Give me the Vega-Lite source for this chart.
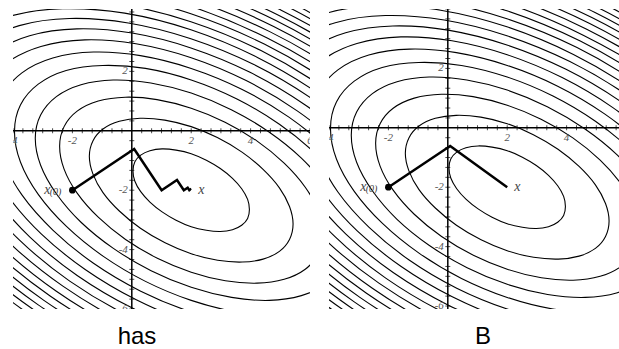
{
"$schema": "https://vega.github.io/schema/vega-lite/v6.json",
"padding": {"left": 12, "top": 8, "right": 0, "bottom": 0},
"spacing": 17,
"background": "white",
"config": {"view": {"stroke": null}},
"datasets": {
"contours": [
{"c":0,"i":0,"x":2.51,"y":-0.99},{"c":0,"i":1,"x":2.98,"y":-1.27},{"c":0,"i":2,"x":3.39,"y":-1.60},{"c":0,"i":3,"x":3.70,"y":-1.95},{"c":0,"i":4,"x":3.90,"y":-2.31},{"c":0,"i":5,"x":3.96,"y":-2.65},{"c":0,"i":6,"x":3.90,"y":-2.95},{"c":0,"i":7,"x":3.70,"y":-3.18},{"c":0,"i":8,"x":3.39,"y":-3.33},{"c":0,"i":9,"x":2.98,"y":-3.39},{"c":0,"i":10,"x":2.51,"y":-3.35},{"c":0,"i":11,"x":2.00,"y":-3.23},{"c":0,"i":12,"x":1.49,"y":-3.01},{"c":0,"i":13,"x":1.02,"y":-2.73},{"c":0,"i":14,"x":0.61,"y":-2.40},{"c":0,"i":15,"x":0.30,"y":-2.05},{"c":0,"i":16,"x":0.10,"y":-1.69},{"c":0,"i":17,"x":0.04,"y":-1.35},{"c":0,"i":18,"x":0.10,"y":-1.05},{"c":0,"i":19,"x":0.30,"y":-0.82},{"c":0,"i":20,"x":0.61,"y":-0.67},{"c":0,"i":21,"x":1.02,"y":-0.61},{"c":0,"i":22,"x":1.49,"y":-0.65},{"c":0,"i":23,"x":2.00,"y":-0.77},
{"c":1,"i":0,"x":2.88,"y":-0.23},{"c":1,"i":1,"x":3.71,"y":-0.72},{"c":1,"i":2,"x":4.42,"y":-1.30},{"c":1,"i":3,"x":4.97,"y":-1.92},{"c":1,"i":4,"x":5.31,"y":-2.55},{"c":1,"i":5,"x":5.43,"y":-3.14},{"c":1,"i":6,"x":5.31,"y":-3.66},{"c":1,"i":7,"x":4.97,"y":-4.06},{"c":1,"i":8,"x":4.42,"y":-4.32},{"c":1,"i":9,"x":3.72,"y":-4.42},{"c":1,"i":10,"x":2.89,"y":-4.36},{"c":1,"i":11,"x":2.00,"y":-4.14},{"c":1,"i":12,"x":1.12,"y":-3.77},{"c":1,"i":13,"x":0.29,"y":-3.28},{"c":1,"i":14,"x":-0.42,"y":-2.70},{"c":1,"i":15,"x":-0.97,"y":-2.08},{"c":1,"i":16,"x":-1.31,"y":-1.45},{"c":1,"i":17,"x":-1.43,"y":-0.86},{"c":1,"i":18,"x":-1.31,"y":-0.34},{"c":1,"i":19,"x":-0.97,"y":0.06},{"c":1,"i":20,"x":-0.42,"y":0.32},{"c":1,"i":21,"x":0.28,"y":0.42},{"c":1,"i":22,"x":1.11,"y":0.36},{"c":1,"i":23,"x":2.00,"y":0.14},
{"c":2,"i":0,"x":3.14,"y":0.29},{"c":2,"i":1,"x":4.21,"y":-0.34},{"c":2,"i":2,"x":5.13,"y":-1.09},{"c":2,"i":3,"x":5.84,"y":-1.90},{"c":2,"i":4,"x":6.28,"y":-2.71},{"c":2,"i":5,"x":6.43,"y":-3.48},{"c":2,"i":6,"x":6.28,"y":-4.14},{"c":2,"i":7,"x":5.84,"y":-4.66},{"c":2,"i":8,"x":5.13,"y":-5.00},{"c":2,"i":9,"x":4.22,"y":-5.13},{"c":2,"i":10,"x":3.15,"y":-5.05},{"c":2,"i":11,"x":2.00,"y":-4.76},{"c":2,"i":12,"x":0.86,"y":-4.29},{"c":2,"i":13,"x":-0.21,"y":-3.66},{"c":2,"i":14,"x":-1.13,"y":-2.91},{"c":2,"i":15,"x":-1.84,"y":-2.10},{"c":2,"i":16,"x":-2.28,"y":-1.29},{"c":2,"i":17,"x":-2.43,"y":-0.52},{"c":2,"i":18,"x":-2.28,"y":0.14},{"c":2,"i":19,"x":-1.84,"y":0.66},{"c":2,"i":20,"x":-1.13,"y":1.00},{"c":2,"i":21,"x":-0.22,"y":1.13},{"c":2,"i":22,"x":0.85,"y":1.05},{"c":2,"i":23,"x":2.00,"y":0.76},
{"c":3,"i":0,"x":3.35,"y":0.71},{"c":3,"i":1,"x":4.62,"y":-0.04},{"c":3,"i":2,"x":5.71,"y":-0.92},{"c":3,"i":3,"x":6.54,"y":-1.88},{"c":3,"i":4,"x":7.07,"y":-2.84},{"c":3,"i":5,"x":7.25,"y":-3.75},{"c":3,"i":6,"x":7.07,"y":-4.53},{"c":3,"i":7,"x":6.54,"y":-5.15},{"c":3,"i":8,"x":5.71,"y":-5.55},{"c":3,"i":9,"x":4.63,"y":-5.71},{"c":3,"i":10,"x":3.36,"y":-5.61},{"c":3,"i":11,"x":2.00,"y":-5.27},{"c":3,"i":12,"x":0.65,"y":-4.71},{"c":3,"i":13,"x":-0.62,"y":-3.96},{"c":3,"i":14,"x":-1.71,"y":-3.08},{"c":3,"i":15,"x":-2.54,"y":-2.12},{"c":3,"i":16,"x":-3.07,"y":-1.16},{"c":3,"i":17,"x":-3.25,"y":-0.25},{"c":3,"i":18,"x":-3.07,"y":0.53},{"c":3,"i":19,"x":-2.54,"y":1.15},{"c":3,"i":20,"x":-1.71,"y":1.55},{"c":3,"i":21,"x":-0.63,"y":1.71},{"c":3,"i":22,"x":0.64,"y":1.61},{"c":3,"i":23,"x":2.00,"y":1.27},
{"c":4,"i":0,"x":3.54,"y":1.07},{"c":4,"i":1,"x":4.97,"y":0.22},{"c":4,"i":2,"x":6.20,"y":-0.78},{"c":4,"i":3,"x":7.15,"y":-1.86},{"c":4,"i":4,"x":7.75,"y":-2.95},{"c":4,"i":5,"x":7.95,"y":-3.98},{"c":4,"i":6,"x":7.75,"y":-4.87},{"c":4,"i":7,"x":7.15,"y":-5.57},{"c":4,"i":8,"x":6.21,"y":-6.03},{"c":4,"i":9,"x":4.98,"y":-6.20},{"c":4,"i":10,"x":3.54,"y":-6.10},{"c":4,"i":11,"x":2.00,"y":-5.71},{"c":4,"i":12,"x":0.46,"y":-5.07},{"c":4,"i":13,"x":-0.97,"y":-4.22},{"c":4,"i":14,"x":-2.20,"y":-3.22},{"c":4,"i":15,"x":-3.15,"y":-2.14},{"c":4,"i":16,"x":-3.75,"y":-1.05},{"c":4,"i":17,"x":-3.95,"y":-0.02},{"c":4,"i":18,"x":-3.75,"y":0.87},{"c":4,"i":19,"x":-3.15,"y":1.57},{"c":4,"i":20,"x":-2.21,"y":2.03},{"c":4,"i":21,"x":-0.98,"y":2.20},{"c":4,"i":22,"x":0.46,"y":2.10},{"c":4,"i":23,"x":2.00,"y":1.71},
{"c":5,"i":0,"x":3.70,"y":1.40},{"c":5,"i":1,"x":5.29,"y":0.46},{"c":5,"i":2,"x":6.65,"y":-0.65},{"c":5,"i":3,"x":7.70,"y":-1.84},{"c":5,"i":4,"x":8.35,"y":-3.05},{"c":5,"i":5,"x":8.58,"y":-4.19},{"c":5,"i":6,"x":8.36,"y":-5.18},{"c":5,"i":7,"x":7.70,"y":-5.95},{"c":5,"i":8,"x":6.66,"y":-6.45},{"c":5,"i":9,"x":5.29,"y":-6.65},{"c":5,"i":10,"x":3.71,"y":-6.53},{"c":5,"i":11,"x":2.00,"y":-6.10},{"c":5,"i":12,"x":0.30,"y":-5.40},{"c":5,"i":13,"x":-1.29,"y":-4.46},{"c":5,"i":14,"x":-2.65,"y":-3.35},{"c":5,"i":15,"x":-3.70,"y":-2.16},{"c":5,"i":16,"x":-4.35,"y":-0.95},{"c":5,"i":17,"x":-4.58,"y":0.19},{"c":5,"i":18,"x":-4.36,"y":1.18},{"c":5,"i":19,"x":-3.70,"y":1.95},{"c":5,"i":20,"x":-2.66,"y":2.45},{"c":5,"i":21,"x":-1.29,"y":2.65},{"c":5,"i":22,"x":0.29,"y":2.53},{"c":5,"i":23,"x":2.00,"y":2.10},
{"c":6,"i":0,"x":3.85,"y":1.69},{"c":6,"i":1,"x":5.57,"y":0.67},{"c":6,"i":2,"x":7.05,"y":-0.53},{"c":6,"i":3,"x":8.19,"y":-1.83},{"c":6,"i":4,"x":8.91,"y":-3.15},{"c":6,"i":5,"x":9.15,"y":-4.38},{"c":6,"i":6,"x":8.91,"y":-5.46},{"c":6,"i":7,"x":8.20,"y":-6.29},{"c":6,"i":8,"x":7.06,"y":-6.84},{"c":6,"i":9,"x":5.58,"y":-7.06},{"c":6,"i":10,"x":3.86,"y":-6.93},{"c":6,"i":11,"x":2.00,"y":-6.46},{"c":6,"i":12,"x":0.15,"y":-5.69},{"c":6,"i":13,"x":-1.57,"y":-4.67},{"c":6,"i":14,"x":-3.05,"y":-3.47},{"c":6,"i":15,"x":-4.19,"y":-2.17},{"c":6,"i":16,"x":-4.91,"y":-0.85},{"c":6,"i":17,"x":-5.15,"y":0.38},{"c":6,"i":18,"x":-4.91,"y":1.46},{"c":6,"i":19,"x":-4.20,"y":2.29},{"c":6,"i":20,"x":-3.06,"y":2.84},{"c":6,"i":21,"x":-1.58,"y":3.06},{"c":6,"i":22,"x":0.14,"y":2.93},{"c":6,"i":23,"x":2.00,"y":2.46},
{"c":7,"i":0,"x":3.98,"y":1.97},{"c":7,"i":1,"x":5.84,"y":0.87},{"c":7,"i":2,"x":7.43,"y":-0.42},{"c":7,"i":3,"x":8.65,"y":-1.82},{"c":7,"i":4,"x":9.42,"y":-3.23},{"c":7,"i":5,"x":9.68,"y":-4.56},{"c":7,"i":6,"x":9.42,"y":-5.71},{"c":7,"i":7,"x":8.66,"y":-6.61},{"c":7,"i":8,"x":7.44,"y":-7.20},{"c":7,"i":9,"x":5.85,"y":-7.43},{"c":7,"i":10,"x":3.99,"y":-7.29},{"c":7,"i":11,"x":2.01,"y":-6.79},{"c":7,"i":12,"x":0.02,"y":-5.97},{"c":7,"i":13,"x":-1.84,"y":-4.87},{"c":7,"i":14,"x":-3.43,"y":-3.58},{"c":7,"i":15,"x":-4.65,"y":-2.18},{"c":7,"i":16,"x":-5.42,"y":-0.77},{"c":7,"i":17,"x":-5.68,"y":0.56},{"c":7,"i":18,"x":-5.42,"y":1.71},{"c":7,"i":19,"x":-4.66,"y":2.61},{"c":7,"i":20,"x":-3.44,"y":3.20},{"c":7,"i":21,"x":-1.85,"y":3.43},{"c":7,"i":22,"x":0.01,"y":3.29},{"c":7,"i":23,"x":1.99,"y":2.79},
{"c":8,"i":0,"x":4.11,"y":2.23},{"c":8,"i":1,"x":6.09,"y":1.06},{"c":8,"i":2,"x":7.78,"y":-0.32},{"c":8,"i":3,"x":9.08,"y":-1.81},{"c":8,"i":4,"x":9.90,"y":-3.31},{"c":8,"i":5,"x":10.18,"y":-4.72},{"c":8,"i":6,"x":9.90,"y":-5.95},{"c":8,"i":7,"x":9.09,"y":-6.91},{"c":8,"i":8,"x":7.79,"y":-7.54},{"c":8,"i":9,"x":6.10,"y":-7.78},{"c":8,"i":10,"x":4.12,"y":-7.63},{"c":8,"i":11,"x":2.01,"y":-7.10},{"c":8,"i":12,"x":-0.11,"y":-6.23},{"c":8,"i":13,"x":-2.09,"y":-5.06},{"c":8,"i":14,"x":-3.78,"y":-3.68},{"c":8,"i":15,"x":-5.08,"y":-2.19},{"c":8,"i":16,"x":-5.90,"y":-0.69},{"c":8,"i":17,"x":-6.18,"y":0.72},{"c":8,"i":18,"x":-5.90,"y":1.95},{"c":8,"i":19,"x":-5.09,"y":2.91},{"c":8,"i":20,"x":-3.79,"y":3.54},{"c":8,"i":21,"x":-2.10,"y":3.78},{"c":8,"i":22,"x":-0.12,"y":3.63},{"c":8,"i":23,"x":1.99,"y":3.10},
{"c":9,"i":0,"x":4.23,"y":2.47},{"c":9,"i":1,"x":6.32,"y":1.23},{"c":9,"i":2,"x":8.11,"y":-0.22},{"c":9,"i":3,"x":9.49,"y":-1.80},{"c":9,"i":4,"x":10.35,"y":-3.38},{"c":9,"i":5,"x":10.65,"y":-4.88},{"c":9,"i":6,"x":10.36,"y":-6.18},{"c":9,"i":7,"x":9.49,"y":-7.19},{"c":9,"i":8,"x":8.12,"y":-7.85},{"c":9,"i":9,"x":6.33,"y":-8.11},{"c":9,"i":10,"x":4.24,"y":-7.96},{"c":9,"i":11,"x":2.01,"y":-7.40},{"c":9,"i":12,"x":-0.23,"y":-6.47},{"c":9,"i":13,"x":-2.32,"y":-5.23},{"c":9,"i":14,"x":-4.11,"y":-3.78},{"c":9,"i":15,"x":-5.49,"y":-2.20},{"c":9,"i":16,"x":-6.35,"y":-0.62},{"c":9,"i":17,"x":-6.65,"y":0.88},{"c":9,"i":18,"x":-6.36,"y":2.18},{"c":9,"i":19,"x":-5.49,"y":3.19},{"c":9,"i":20,"x":-4.12,"y":3.85},{"c":9,"i":21,"x":-2.33,"y":4.11},{"c":9,"i":22,"x":-0.24,"y":3.96},{"c":9,"i":23,"x":1.99,"y":3.40},
{"c":10,"i":0,"x":4.35,"y":2.70},{"c":10,"i":1,"x":6.54,"y":1.40},{"c":10,"i":2,"x":8.43,"y":-0.13},{"c":10,"i":3,"x":9.87,"y":-1.78},{"c":10,"i":4,"x":10.78,"y":-3.46},{"c":10,"i":5,"x":11.09,"y":-5.03},{"c":10,"i":6,"x":10.79,"y":-6.39},{"c":10,"i":7,"x":9.88,"y":-7.46},{"c":10,"i":8,"x":8.44,"y":-8.15},{"c":10,"i":9,"x":6.55,"y":-8.43},{"c":10,"i":10,"x":4.36,"y":-8.26},{"c":10,"i":11,"x":2.01,"y":-7.67},{"c":10,"i":12,"x":-0.35,"y":-6.70},{"c":10,"i":13,"x":-2.54,"y":-5.40},{"c":10,"i":14,"x":-4.43,"y":-3.87},{"c":10,"i":15,"x":-5.87,"y":-2.22},{"c":10,"i":16,"x":-6.78,"y":-0.54},{"c":10,"i":17,"x":-7.09,"y":1.03},{"c":10,"i":18,"x":-6.79,"y":2.39},{"c":10,"i":19,"x":-5.88,"y":3.46},{"c":10,"i":20,"x":-4.44,"y":4.15},{"c":10,"i":21,"x":-2.55,"y":4.43},{"c":10,"i":22,"x":-0.36,"y":4.26},{"c":10,"i":23,"x":1.99,"y":3.67},
{"c":11,"i":0,"x":4.46,"y":2.92},{"c":11,"i":1,"x":6.75,"y":1.56},{"c":11,"i":2,"x":8.73,"y":-0.04},{"c":11,"i":3,"x":10.24,"y":-1.77},{"c":11,"i":4,"x":11.19,"y":-3.52},{"c":11,"i":5,"x":11.52,"y":-5.17},{"c":11,"i":6,"x":11.20,"y":-6.60},{"c":11,"i":7,"x":10.25,"y":-7.71},{"c":11,"i":8,"x":8.74,"y":-8.44},{"c":11,"i":9,"x":6.76,"y":-8.73},{"c":11,"i":10,"x":4.47,"y":-8.56},{"c":11,"i":11,"x":2.01,"y":-7.94},{"c":11,"i":12,"x":-0.46,"y":-6.92},{"c":11,"i":13,"x":-2.75,"y":-5.56},{"c":11,"i":14,"x":-4.73,"y":-3.96},{"c":11,"i":15,"x":-6.24,"y":-2.23},{"c":11,"i":16,"x":-7.19,"y":-0.48},{"c":11,"i":17,"x":-7.52,"y":1.17},{"c":11,"i":18,"x":-7.20,"y":2.60},{"c":11,"i":19,"x":-6.25,"y":3.71},{"c":11,"i":20,"x":-4.74,"y":4.44},{"c":11,"i":21,"x":-2.76,"y":4.73},{"c":11,"i":22,"x":-0.47,"y":4.56},{"c":11,"i":23,"x":1.99,"y":3.94},
{"c":12,"i":0,"x":4.56,"y":3.12},{"c":12,"i":1,"x":6.96,"y":1.71},{"c":12,"i":2,"x":9.01,"y":0.04},{"c":12,"i":3,"x":10.59,"y":-1.77},{"c":12,"i":4,"x":11.58,"y":-3.59},{"c":12,"i":5,"x":11.92,"y":-5.30},{"c":12,"i":6,"x":11.59,"y":-6.79},{"c":12,"i":7,"x":10.60,"y":-7.96},{"c":12,"i":8,"x":9.02,"y":-8.71},{"c":12,"i":9,"x":6.97,"y":-9.01},{"c":12,"i":10,"x":4.57,"y":-8.83},{"c":12,"i":11,"x":2.01,"y":-8.19},{"c":12,"i":12,"x":-0.56,"y":-7.12},{"c":12,"i":13,"x":-2.96,"y":-5.71},{"c":12,"i":14,"x":-5.01,"y":-4.04},{"c":12,"i":15,"x":-6.59,"y":-2.23},{"c":12,"i":16,"x":-7.58,"y":-0.41},{"c":12,"i":17,"x":-7.92,"y":1.30},{"c":12,"i":18,"x":-7.59,"y":2.79},{"c":12,"i":19,"x":-6.60,"y":3.96},{"c":12,"i":20,"x":-5.02,"y":4.71},{"c":12,"i":21,"x":-2.97,"y":5.01},{"c":12,"i":22,"x":-0.57,"y":4.83},{"c":12,"i":23,"x":1.99,"y":4.19},
{"c":13,"i":0,"x":4.66,"y":3.33},{"c":13,"i":1,"x":7.15,"y":1.86},{"c":13,"i":2,"x":9.29,"y":0.12},{"c":13,"i":3,"x":10.93,"y":-1.76},{"c":13,"i":4,"x":11.96,"y":-3.65},{"c":13,"i":5,"x":12.31,"y":-5.43},{"c":13,"i":6,"x":11.96,"y":-6.98},{"c":13,"i":7,"x":10.93,"y":-8.19},{"c":13,"i":8,"x":9.30,"y":-8.98},{"c":13,"i":9,"x":7.16,"y":-9.29},{"c":13,"i":10,"x":4.68,"y":-9.10},{"c":13,"i":11,"x":2.01,"y":-8.43},{"c":13,"i":12,"x":-0.66,"y":-7.33},{"c":13,"i":13,"x":-3.15,"y":-5.86},{"c":13,"i":14,"x":-5.29,"y":-4.12},{"c":13,"i":15,"x":-6.93,"y":-2.24},{"c":13,"i":16,"x":-7.96,"y":-0.35},{"c":13,"i":17,"x":-8.31,"y":1.43},{"c":13,"i":18,"x":-7.96,"y":2.98},{"c":13,"i":19,"x":-6.93,"y":4.19},{"c":13,"i":20,"x":-5.30,"y":4.98},{"c":13,"i":21,"x":-3.16,"y":5.29},{"c":13,"i":22,"x":-0.68,"y":5.10},{"c":13,"i":23,"x":1.99,"y":4.43},
{"c":14,"i":0,"x":4.76,"y":3.52},{"c":14,"i":1,"x":7.34,"y":2.00},{"c":14,"i":2,"x":9.55,"y":0.20},{"c":14,"i":3,"x":11.25,"y":-1.75},{"c":14,"i":4,"x":12.32,"y":-3.71},{"c":14,"i":5,"x":12.69,"y":-5.56},{"c":14,"i":6,"x":12.33,"y":-7.16},{"c":14,"i":7,"x":11.26,"y":-8.42},{"c":14,"i":8,"x":9.56,"y":-9.23},{"c":14,"i":9,"x":7.35,"y":-9.55},{"c":14,"i":10,"x":4.77,"y":-9.36},{"c":14,"i":11,"x":2.01,"y":-8.67},{"c":14,"i":12,"x":-0.76,"y":-7.52},{"c":14,"i":13,"x":-3.34,"y":-6.00},{"c":14,"i":14,"x":-5.55,"y":-4.20},{"c":14,"i":15,"x":-7.25,"y":-2.25},{"c":14,"i":16,"x":-8.32,"y":-0.29},{"c":14,"i":17,"x":-8.69,"y":1.56},{"c":14,"i":18,"x":-8.33,"y":3.16},{"c":14,"i":19,"x":-7.26,"y":4.42},{"c":14,"i":20,"x":-5.56,"y":5.23},{"c":14,"i":21,"x":-3.35,"y":5.55},{"c":14,"i":22,"x":-0.77,"y":5.36},{"c":14,"i":23,"x":1.99,"y":4.67},
{"c":15,"i":0,"x":4.85,"y":3.71},{"c":15,"i":1,"x":7.52,"y":2.13},{"c":15,"i":2,"x":9.81,"y":0.27},{"c":15,"i":3,"x":11.57,"y":-1.74},{"c":15,"i":4,"x":12.67,"y":-3.77},{"c":15,"i":5,"x":13.05,"y":-5.68},{"c":15,"i":6,"x":12.68,"y":-7.34},{"c":15,"i":7,"x":11.57,"y":-8.63},{"c":15,"i":8,"x":9.82,"y":-9.48},{"c":15,"i":9,"x":7.53,"y":-9.81},{"c":15,"i":10,"x":4.87,"y":-9.61},{"c":15,"i":11,"x":2.01,"y":-8.89},{"c":15,"i":12,"x":-0.85,"y":-7.71},{"c":15,"i":13,"x":-3.52,"y":-6.13},{"c":15,"i":14,"x":-5.81,"y":-4.27},{"c":15,"i":15,"x":-7.57,"y":-2.26},{"c":15,"i":16,"x":-8.67,"y":-0.23},{"c":15,"i":17,"x":-9.05,"y":1.68},{"c":15,"i":18,"x":-8.68,"y":3.34},{"c":15,"i":19,"x":-7.57,"y":4.63},{"c":15,"i":20,"x":-5.82,"y":5.48},{"c":15,"i":21,"x":-3.53,"y":5.81},{"c":15,"i":22,"x":-0.87,"y":5.61},{"c":15,"i":23,"x":1.99,"y":4.89},
{"c":16,"i":0,"x":4.94,"y":3.89},{"c":16,"i":1,"x":7.70,"y":2.26},{"c":16,"i":2,"x":10.06,"y":0.35},{"c":16,"i":3,"x":11.87,"y":-1.73},{"c":16,"i":4,"x":13.01,"y":-3.83},{"c":16,"i":5,"x":13.40,"y":-5.80},{"c":16,"i":6,"x":13.02,"y":-7.51},{"c":16,"i":7,"x":11.88,"y":-8.84},{"c":16,"i":8,"x":10.07,"y":-9.72},{"c":16,"i":9,"x":7.71,"y":-10.06},{"c":16,"i":10,"x":4.96,"y":-9.85},{"c":16,"i":11,"x":2.01,"y":-9.11},{"c":16,"i":12,"x":-0.94,"y":-7.89},{"c":16,"i":13,"x":-3.70,"y":-6.26},{"c":16,"i":14,"x":-6.06,"y":-4.35},{"c":16,"i":15,"x":-7.87,"y":-2.27},{"c":16,"i":16,"x":-9.01,"y":-0.17},{"c":16,"i":17,"x":-9.40,"y":1.80},{"c":16,"i":18,"x":-9.02,"y":3.51},{"c":16,"i":19,"x":-7.88,"y":4.84},{"c":16,"i":20,"x":-6.07,"y":5.72},{"c":16,"i":21,"x":-3.71,"y":6.06},{"c":16,"i":22,"x":-0.96,"y":5.85},{"c":16,"i":23,"x":1.99,"y":5.11},
{"c":17,"i":0,"x":5.03,"y":4.06},{"c":17,"i":1,"x":7.87,"y":2.39},{"c":17,"i":2,"x":10.30,"y":0.42},{"c":17,"i":3,"x":12.17,"y":-1.72},{"c":17,"i":4,"x":13.34,"y":-3.88},{"c":17,"i":5,"x":13.74,"y":-5.91},{"c":17,"i":6,"x":13.35,"y":-7.67},{"c":17,"i":7,"x":12.17,"y":-9.05},{"c":17,"i":8,"x":10.31,"y":-9.95},{"c":17,"i":9,"x":7.88,"y":-10.30},{"c":17,"i":10,"x":5.05,"y":-10.09},{"c":17,"i":11,"x":2.01,"y":-9.33},{"c":17,"i":12,"x":-1.03,"y":-8.06},{"c":17,"i":13,"x":-3.87,"y":-6.39},{"c":17,"i":14,"x":-6.30,"y":-4.42},{"c":17,"i":15,"x":-8.17,"y":-2.28},{"c":17,"i":16,"x":-9.34,"y":-0.12},{"c":17,"i":17,"x":-9.74,"y":1.91},{"c":17,"i":18,"x":-9.35,"y":3.67},{"c":17,"i":19,"x":-8.17,"y":5.05},{"c":17,"i":20,"x":-6.31,"y":5.95},{"c":17,"i":21,"x":-3.88,"y":6.30},{"c":17,"i":22,"x":-1.05,"y":6.09},{"c":17,"i":23,"x":1.99,"y":5.33},
{"c":18,"i":0,"x":5.12,"y":4.24},{"c":18,"i":1,"x":8.03,"y":2.51},{"c":18,"i":2,"x":10.53,"y":0.48},{"c":18,"i":3,"x":12.45,"y":-1.71},{"c":18,"i":4,"x":13.66,"y":-3.93},{"c":18,"i":5,"x":14.07,"y":-6.02},{"c":18,"i":6,"x":13.66,"y":-7.83},{"c":18,"i":7,"x":12.46,"y":-9.25},{"c":18,"i":8,"x":10.54,"y":-10.17},{"c":18,"i":9,"x":8.04,"y":-10.53},{"c":18,"i":10,"x":5.13,"y":-10.32},{"c":18,"i":11,"x":2.01,"y":-9.53},{"c":18,"i":12,"x":-1.12,"y":-8.24},{"c":18,"i":13,"x":-4.03,"y":-6.51},{"c":18,"i":14,"x":-6.53,"y":-4.48},{"c":18,"i":15,"x":-8.45,"y":-2.29},{"c":18,"i":16,"x":-9.66,"y":-0.07},{"c":18,"i":17,"x":-10.07,"y":2.02},{"c":18,"i":18,"x":-9.66,"y":3.83},{"c":18,"i":19,"x":-8.46,"y":5.25},{"c":18,"i":20,"x":-6.54,"y":6.17},{"c":18,"i":21,"x":-4.04,"y":6.53},{"c":18,"i":22,"x":-1.13,"y":6.32},{"c":18,"i":23,"x":1.99,"y":5.53},
{"c":19,"i":0,"x":5.20,"y":4.40},{"c":19,"i":1,"x":8.19,"y":2.63},{"c":19,"i":2,"x":10.76,"y":0.55},{"c":19,"i":3,"x":12.73,"y":-1.71},{"c":19,"i":4,"x":13.97,"y":-3.98},{"c":19,"i":5,"x":14.40,"y":-6.13},{"c":19,"i":6,"x":13.98,"y":-7.99},{"c":19,"i":7,"x":12.74,"y":-9.44},{"c":19,"i":8,"x":10.77,"y":-10.39},{"c":19,"i":9,"x":8.21,"y":-10.76},{"c":19,"i":10,"x":5.22,"y":-10.54},{"c":19,"i":11,"x":2.01,"y":-9.73},{"c":19,"i":12,"x":-1.20,"y":-8.40},{"c":19,"i":13,"x":-4.19,"y":-6.63},{"c":19,"i":14,"x":-6.76,"y":-4.55},{"c":19,"i":15,"x":-8.73,"y":-2.29},{"c":19,"i":16,"x":-9.97,"y":-0.01},{"c":19,"i":17,"x":-10.40,"y":2.13},{"c":19,"i":18,"x":-9.98,"y":3.99},{"c":19,"i":19,"x":-8.74,"y":5.44},{"c":19,"i":20,"x":-6.77,"y":6.39},{"c":19,"i":21,"x":-4.21,"y":6.76},{"c":19,"i":22,"x":-1.22,"y":6.54},{"c":19,"i":23,"x":1.99,"y":5.73}
],
"ticks": [{"t":-6},{"t":-5.667},{"t":-5.333},{"t":-5},{"t":-4.667},{"t":-4.333},{"t":-4},{"t":-3.667},{"t":-3.333},{"t":-3},{"t":-2.667},{"t":-2.333},{"t":-2},{"t":-1.667},{"t":-1.333},{"t":-1},{"t":-0.667},{"t":-0.333},{"t":0.333},{"t":0.667},{"t":1},{"t":1.333},{"t":1.667},{"t":2},{"t":2.333},{"t":2.667},{"t":3},{"t":3.333},{"t":3.667},{"t":4},{"t":4.333},{"t":4.667},{"t":5},{"t":5.333},{"t":5.667},{"t":6}],
"xlabels": [{"v":-4,"s":"-4"},{"v":-2,"s":"-2"},{"v":2,"s":"2"},{"v":4,"s":"4"},{"v":6,"s":"6"}],
"ylabels": [{"v":2,"s":"2"},{"v":-2,"s":"-2"},{"v":-4,"s":"-4"},{"v":-6,"s":"-6"}],
"sd": [{"i":0,"x":-2,"y":-2},{"i":1,"x":0.08,"y":-0.613},{"i":2,"x":1.004,"y":-2},{"i":3,"x":1.522,"y":-1.655},{"i":4,"x":1.752,"y":-2},{"i":5,"x":1.881,"y":-1.914},{"i":6,"x":1.938,"y":-2},{"i":7,"x":1.97,"y":-1.979},{"i":8,"x":1.985,"y":-2}],
"cg": [{"i":0,"x":-2,"y":-2},{"i":1,"x":0.08,"y":-0.613},{"i":2,"x":2,"y":-2}],
"one": [{"k":1}]
},
"hconcat": [
{
"width": 297, "height": 300,
"layer": [
{"data": {"name": "contours"}, "mark": {"type": "line", "interpolate": "cardinal-closed", "clip": true, "stroke": "#000", "strokeWidth": 1.1},
 "encoding": {"x": {"field": "x", "type": "quantitative", "scale": {"domain": [-4, 6], "nice": false, "zero": false}, "axis": null},
  "y": {"field": "y", "type": "quantitative", "scale": {"domain": [-6, 4.1], "nice": false, "zero": false}, "axis": null},
  "detail": {"field": "c", "type": "nominal"}, "order": {"field": "i", "type": "quantitative"}}},
{"data": {"name": "one"}, "mark": {"type": "rule", "stroke": "black", "strokeWidth": 1.5}, "encoding": {"x": {"datum": 0, "type": "quantitative"}}},
{"data": {"name": "one"}, "mark": {"type": "rule", "stroke": "black", "strokeWidth": 1.5}, "encoding": {"y": {"datum": 0, "type": "quantitative"}}},
{"data": {"name": "ticks"}, "mark": {"type": "tick", "orient": "vertical", "size": 5, "thickness": 1, "color": "black", "clip": true},
 "encoding": {"x": {"field": "t", "type": "quantitative"}, "y": {"datum": 0, "type": "quantitative"}}},
{"data": {"name": "ticks"}, "mark": {"type": "tick", "orient": "horizontal", "size": 5, "thickness": 1, "color": "black", "clip": true},
 "encoding": {"y": {"field": "t", "type": "quantitative"}, "x": {"datum": 0, "type": "quantitative"}}},
{"data": {"name": "xlabels"}, "mark": {"type": "text", "clip": true, "baseline": "top", "dy": 4, "font": "Liberation Serif", "fontStyle": "italic", "fontSize": 11, "fill": "#555"},
 "encoding": {"x": {"field": "v", "type": "quantitative"}, "y": {"datum": 0, "type": "quantitative"}, "text": {"field": "s"}}},
{"data": {"name": "ylabels"}, "mark": {"type": "text", "clip": true, "align": "right", "baseline": "middle", "dx": -4, "font": "Liberation Serif", "fontStyle": "italic", "fontSize": 11, "fill": "#555"},
 "encoding": {"y": {"field": "v", "type": "quantitative"}, "x": {"datum": 0, "type": "quantitative"}, "text": {"field": "s"}}},
{"data": {"name": "sd"}, "mark": {"type": "line", "clip": true, "stroke": "black", "strokeWidth": 2.5},
 "encoding": {"x": {"field": "x", "type": "quantitative"}, "y": {"field": "y", "type": "quantitative"}, "order": {"field": "i", "type": "quantitative"}}},
{"data": {"name": "one"}, "mark": {"type": "point", "filled": true, "size": 45, "color": "black", "opacity": 1},
 "encoding": {"x": {"datum": -2, "type": "quantitative"}, "y": {"datum": -2, "type": "quantitative"}}},
{"data": {"name": "one"}, "mark": {"type": "text", "align": "right", "baseline": "middle", "dx": -22, "font": "Liberation Serif", "fontStyle": "italic", "fontSize": 14, "fill": "#444", "text": "x"},
 "encoding": {"x": {"datum": -2, "type": "quantitative"}, "y": {"datum": -2, "type": "quantitative"}}},
{"data": {"name": "one"}, "mark": {"type": "text", "align": "right", "baseline": "middle", "dx": -11, "dy": 2, "font": "Liberation Serif", "fontStyle": "italic", "fontSize": 10, "fill": "#444", "text": "(0)"},
 "encoding": {"x": {"datum": -2, "type": "quantitative"}, "y": {"datum": -2, "type": "quantitative"}}},
{"data": {"name": "one"}, "mark": {"type": "text", "align": "left", "baseline": "middle", "dx": 7, "font": "Liberation Serif", "fontStyle": "italic", "fontSize": 14, "fill": "#444", "text": "x"},
 "encoding": {"x": {"datum": 2, "type": "quantitative"}, "y": {"datum": -2, "type": "quantitative"}}},
{"data": {"name": "one"}, "mark": {"type": "text", "align": "center", "baseline": "alphabetic", "font": "Liberation Sans", "fontSize": 24, "fill": "black", "text": "has"},
 "encoding": {"x": {"datum": 0.175, "type": "quantitative"}, "y": {"datum": -7.18, "type": "quantitative"}}}
]
},
{
"width": 293, "height": 300,
"layer": [
{"data": {"name": "contours"}, "mark": {"type": "line", "interpolate": "cardinal-closed", "clip": true, "stroke": "#000", "strokeWidth": 1.1},
 "encoding": {"x": {"field": "x", "type": "quantitative", "scale": {"domain": [-4, 5.865], "nice": false, "zero": false}, "axis": null},
  "y": {"field": "y", "type": "quantitative", "scale": {"domain": [-6.1, 4], "nice": false, "zero": false}, "axis": null},
  "detail": {"field": "c", "type": "nominal"}, "order": {"field": "i", "type": "quantitative"}}},
{"data": {"name": "one"}, "mark": {"type": "rule", "stroke": "black", "strokeWidth": 1.5}, "encoding": {"x": {"datum": 0, "type": "quantitative"}}},
{"data": {"name": "one"}, "mark": {"type": "rule", "stroke": "black", "strokeWidth": 1.5}, "encoding": {"y": {"datum": 0, "type": "quantitative"}}},
{"data": {"name": "ticks"}, "mark": {"type": "tick", "orient": "vertical", "size": 5, "thickness": 1, "color": "black", "clip": true},
 "encoding": {"x": {"field": "t", "type": "quantitative"}, "y": {"datum": 0, "type": "quantitative"}}},
{"data": {"name": "ticks"}, "mark": {"type": "tick", "orient": "horizontal", "size": 5, "thickness": 1, "color": "black", "clip": true},
 "encoding": {"y": {"field": "t", "type": "quantitative"}, "x": {"datum": 0, "type": "quantitative"}}},
{"data": {"name": "xlabels"}, "transform": [{"filter": "datum.v < 5"}], "mark": {"type": "text", "clip": true, "baseline": "top", "dy": 4, "font": "Liberation Serif", "fontStyle": "italic", "fontSize": 11, "fill": "#555"},
 "encoding": {"x": {"field": "v", "type": "quantitative"}, "y": {"datum": 0, "type": "quantitative"}, "text": {"field": "s"}}},
{"data": {"name": "ylabels"}, "mark": {"type": "text", "clip": true, "align": "right", "baseline": "middle", "dx": -4, "font": "Liberation Serif", "fontStyle": "italic", "fontSize": 11, "fill": "#555"},
 "encoding": {"y": {"field": "v", "type": "quantitative"}, "x": {"datum": 0, "type": "quantitative"}, "text": {"field": "s"}}},
{"data": {"name": "cg"}, "mark": {"type": "line", "clip": true, "stroke": "black", "strokeWidth": 2.5},
 "encoding": {"x": {"field": "x", "type": "quantitative"}, "y": {"field": "y", "type": "quantitative"}, "order": {"field": "i", "type": "quantitative"}}},
{"data": {"name": "one"}, "mark": {"type": "point", "filled": true, "size": 45, "color": "black", "opacity": 1},
 "encoding": {"x": {"datum": -2, "type": "quantitative"}, "y": {"datum": -2, "type": "quantitative"}}},
{"data": {"name": "one"}, "mark": {"type": "text", "align": "right", "baseline": "middle", "dx": -22, "font": "Liberation Serif", "fontStyle": "italic", "fontSize": 14, "fill": "#444", "text": "x"},
 "encoding": {"x": {"datum": -2, "type": "quantitative"}, "y": {"datum": -2, "type": "quantitative"}}},
{"data": {"name": "one"}, "mark": {"type": "text", "align": "right", "baseline": "middle", "dx": -11, "dy": 2, "font": "Liberation Serif", "fontStyle": "italic", "fontSize": 10, "fill": "#444", "text": "(0)"},
 "encoding": {"x": {"datum": -2, "type": "quantitative"}, "y": {"datum": -2, "type": "quantitative"}}},
{"data": {"name": "one"}, "mark": {"type": "text", "align": "left", "baseline": "middle", "dx": 7, "font": "Liberation Serif", "fontStyle": "italic", "fontSize": 14, "fill": "#444", "text": "x"},
 "encoding": {"x": {"datum": 2, "type": "quantitative"}, "y": {"datum": -2, "type": "quantitative"}}},
{"data": {"name": "one"}, "mark": {"type": "text", "align": "center", "baseline": "alphabetic", "font": "Liberation Sans", "fontSize": 24, "fill": "black", "text": "B"},
 "encoding": {"x": {"datum": 1.185, "type": "quantitative"}, "y": {"datum": -7.28, "type": "quantitative"}}}
]
}
]
}
